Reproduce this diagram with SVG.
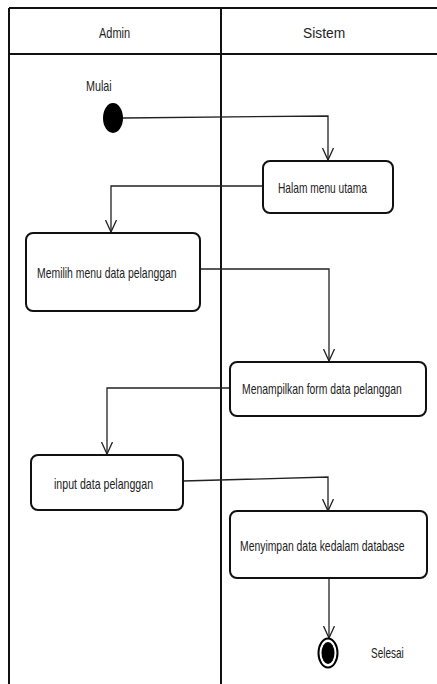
<svg xmlns="http://www.w3.org/2000/svg" width="437" height="684" viewBox="0 0 437 684">
  <defs>
    <style>
      .lane { fill: none; stroke: #111; stroke-width: 2; }
      .act { fill: #fff; stroke: #111; stroke-width: 2; }
      .flow { fill: none; stroke: #222; stroke-width: 1.3; }
      .lbl { font-family: "Liberation Sans", Arial, sans-serif; font-size: 14px; fill: #222; }
    </style>
    <marker id="open-arrow" viewBox="0 0 12 12" refX="12" refY="6" markerWidth="12" markerHeight="12" markerUnits="userSpaceOnUse" orient="auto">
      <path d="M0,0.5 L12,6 L0,11.5" fill="none" stroke="#222" stroke-width="1.3"/>
    </marker>
  </defs>

  <rect width="437" height="684" fill="#fff"/>

  <!-- swimlane frame; labels use a narrowed face (scaleX 0.78) -->
  <g id="lanes">
    <line x1="9" y1="8" x2="437" y2="8" class="lane" stroke-width="3"/>
    <line x1="9" y1="54" x2="437" y2="54" class="lane"/>
    <line x1="9" y1="8" x2="9" y2="684" class="lane"/>
    <line x1="221" y1="8" x2="221" y2="684" class="lane"/>
    <text class="lbl" transform="translate(99,38) scale(0.78,1)" textLength="40" lengthAdjust="spacingAndGlyphs">Admin</text>
    <text class="lbl" transform="translate(303,38) scale(0.78,1)" textLength="54" lengthAdjust="spacingAndGlyphs">Sistem</text>
  </g>

  <!-- connectors -->
  <g id="connectors">
    <polyline class="flow" points="123,118 328,116 328,160" marker-end="url(#open-arrow)"/>
    <polyline class="flow" points="263,186 111,186 111,232" marker-end="url(#open-arrow)"/>
    <polyline class="flow" points="200,269 329,269 329,361" marker-end="url(#open-arrow)"/>
    <polyline class="flow" points="230,388 107,388 107,454" marker-end="url(#open-arrow)"/>
    <polyline class="flow" points="183,481 328,477 328,511" marker-end="url(#open-arrow)"/>
    <polyline class="flow" points="329,578 329,638" marker-end="url(#open-arrow)"/>
  </g>

  <g id="start">
    <ellipse cx="113" cy="118" rx="10" ry="15" fill="#000"/>
    <text class="lbl" transform="translate(86,91) scale(0.78,1)" textLength="33" lengthAdjust="spacingAndGlyphs">Mulai</text>
  </g>

  <g id="halam-menu-utama">
    <rect class="act" x="263" y="161" width="130" height="52" rx="7"/>
    <text class="lbl" transform="translate(278,193) scale(0.78,1)" textLength="114" lengthAdjust="spacingAndGlyphs">Halam menu utama</text>
  </g>

  <g id="memilih-menu">
    <rect class="act" x="26" y="233" width="174" height="78" rx="7"/>
    <text class="lbl" transform="translate(37,278) scale(0.78,1)" textLength="179" lengthAdjust="spacingAndGlyphs">Memilih menu data pelanggan</text>
  </g>

  <g id="menampilkan-form">
    <rect class="act" x="230" y="362" width="196" height="54" rx="7"/>
    <text class="lbl" transform="translate(242,394) scale(0.78,1)" textLength="205" lengthAdjust="spacingAndGlyphs">Menampilkan form data pelanggan</text>
  </g>

  <g id="input-data">
    <rect class="act" x="31" y="455" width="152" height="55" rx="7"/>
    <text class="lbl" transform="translate(54,489) scale(0.78,1)" textLength="127" lengthAdjust="spacingAndGlyphs">input data pelanggan</text>
  </g>

  <g id="menyimpan-data">
    <rect class="act" x="230" y="511" width="197" height="67" rx="7"/>
    <text class="lbl" transform="translate(240,551) scale(0.78,1)" textLength="211" lengthAdjust="spacingAndGlyphs">Menyimpan data kedalam database</text>
  </g>

  <g id="end">
    <ellipse cx="328" cy="653" rx="9.5" ry="14.5" fill="#fff" stroke="#000" stroke-width="2"/>
    <ellipse cx="328" cy="653" rx="6.5" ry="11" fill="#000"/>
    <text class="lbl" transform="translate(371,658) scale(0.78,1)" textLength="42" lengthAdjust="spacingAndGlyphs">Selesai</text>
  </g>
</svg>
